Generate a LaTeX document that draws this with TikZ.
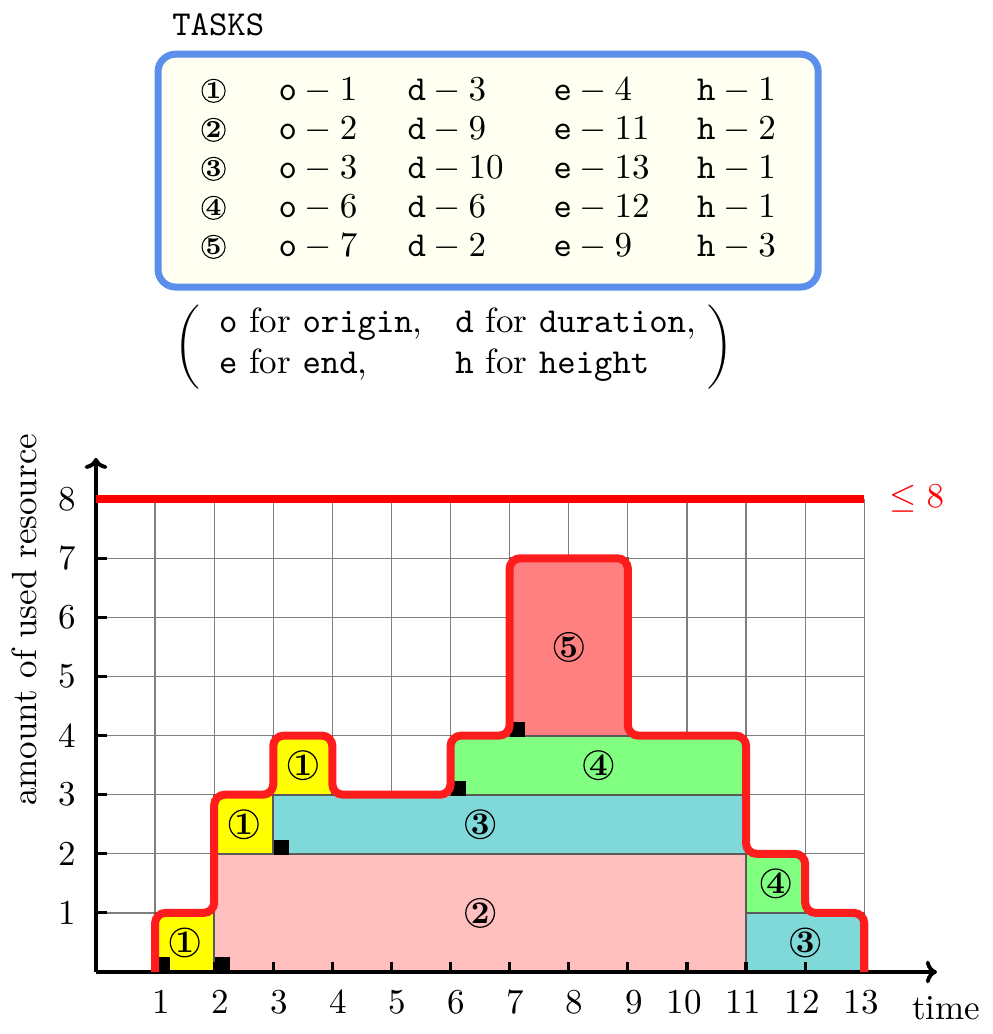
\documentclass[tikz,border=0pt]{standalone}
\usetikzlibrary{arrows.meta}
\definecolor{tyellow}{RGB}{255,255,0}
\definecolor{tpink}{RGB}{255,191,191}
\definecolor{tcyan}{RGB}{128,217,217}
\definecolor{tgreen}{RGB}{128,255,128}
\definecolor{tsalmon}{RGB}{255,128,128}
\definecolor{rectgray}{RGB}{90,90,90}
\definecolor{gridgray}{RGB}{128,128,128}
\definecolor{boxblue}{RGB}{90,143,235}
\definecolor{boxfill}{RGB}{255,255,242}
\definecolor{profred}{RGB}{255,28,28}
\begin{document}
\begin{tikzpicture}[x=0.5935cm,y=0.5935cm,
  gridline/.style={draw=gridgray,line width=0.35pt},
  task/.style={draw=rectgray,line width=0.6pt},
  omark/.style={fill=black},
  axisline/.style={draw=black,line width=1.1pt,-{To[length=3.2pt,width=6.5pt]}},
  tickline/.style={draw=black,line width=0.9pt},
  limitline/.style={draw=red,line width=2.3pt},
  profile/.style={draw=profred,line width=2.3pt,rounded corners=3pt},
  cnum/.style={circle,draw,line width=0.35pt,inner sep=0pt,minimum size=8.2pt,font=\small\bfseries},
  tnum/.style={circle,draw,line width=0.3pt,inner sep=0pt,minimum size=6.6pt,font=\scriptsize\bfseries},
  entry/.style={anchor=base west,inner sep=0pt},
  ticklabel/.style={inner sep=0pt}]
\useasboundingbox (-1.624,-1.049) rectangle (15.178,16.447);

% ---------- task table ----------
\node[entry] (title) at (1.28,15.84) {\texttt{TASKS}};
\draw[draw=boxblue,fill=boxfill,line width=2pt,rounded corners=5pt]
  (1.05,11.59) rectangle (12.22,15.53);
\foreach \r/\o/\d/\e/\h in {1/1/3/4/1, 2/2/9/11/2, 3/3/10/13/1, 4/6/6/12/1, 5/7/2/9/3}{
  \pgfmathsetmacro\yb{14.75-0.66*(\r-1)}
  \node[tnum] (n\r) at (1.99,\yb+0.16) {\r};
  \node[entry] (o\r) at (3.08,\yb) {$\texttt{o} - \o$};
  \node[entry] (d\r) at (5.26,\yb) {$\texttt{d} - \d$};
  \node[entry] (e\r) at (7.73,\yb) {$\texttt{e} - \e$};
  \node[entry] (h\r) at (10.16,\yb) {$\texttt{h} - \h$};
}

% ---------- legend ----------
\node[inner sep=0pt] (lparen) at (1.54,10.57) {$\bigg($};
\node[inner sep=0pt] (rparen) at (10.56,10.57) {$\bigg)$};
\node[entry] (lo) at (2.07,10.82) {\texttt{o} for \texttt{origin},};
\node[entry] (ld) at (6.07,10.82) {\texttt{d} for \texttt{duration},};
\node[entry] (le) at (2.07,10.13) {\texttt{e} for \texttt{end},};
\node[entry] (lh) at (6.07,10.13) {\texttt{h} for \texttt{height}};

% ---------- chart ----------
\foreach \x in {1,...,13} \draw[gridline] (\x,0) -- (\x,8);
\foreach \y in {1,...,8} \draw[gridline] (0,\y) -- (13,\y);

\filldraw[task,fill=tpink]   (2,0) rectangle (11,2);
\filldraw[task,fill=tyellow] (1,0) rectangle (2,1);
\filldraw[task,fill=tyellow] (2,2) rectangle (3,3);
\filldraw[task,fill=tyellow] (3,3) rectangle (4,4);
\filldraw[task,fill=tcyan]   (3,2) rectangle (11,3);
\filldraw[task,fill=tcyan]   (11,0) rectangle (13,1);
\filldraw[task,fill=tgreen]  (6,3) rectangle (11,4);
\filldraw[task,fill=tgreen]  (11,1) rectangle (12,2);
\filldraw[task,fill=tsalmon] (7,4) rectangle (9,7);

\foreach \p in {(1.01,0),(2.01,0),(3.01,1.98),(6.01,2.98),(7.01,3.98)}
  \fill[omark] \p rectangle +(0.25,0.25);

\foreach \x in {1,...,13} \draw[tickline] (\x,0) -- (\x,0.17);
\foreach \y in {1,...,8} \draw[tickline] (0,\y) -- (0.18,\y);
\draw[axisline] (0,0) -- (14.23,0);
\draw[axisline] (0,0) -- (0,8.7);

\draw[limitline] (0,8) -- (13,8);
\draw[profile] (1,0) -- (1,1) -- (2,1) -- (2,3) -- (3,3) -- (3,4) -- (4,4)
  -- (4,3) -- (6,3) -- (6,4) -- (7,4) -- (7,7) -- (9,7) -- (9,4) -- (11,4)
  -- (11,2) -- (12,2) -- (12,1) -- (13,1) -- (13,0);

\node[cnum] (ta) at (1.5,0.5) {1};
\node[cnum] (tb) at (2.5,2.5) {1};
\node[cnum] (tc) at (3.5,3.5) {1};
\node[cnum] (td) at (6.5,1) {2};
\node[cnum] (te) at (6.5,2.5) {3};
\node[cnum] (tf) at (12,0.5) {3};
\node[cnum] (tg) at (8.5,3.5) {4};
\node[cnum] (th) at (11.5,1.5) {4};
\node[cnum] (ti) at (8,5.5) {5};

\foreach \x in {1,...,13}
  \node[ticklabel,anchor=base east] (xl\x) at (\x+0.26,-0.71) {\x};
\foreach \y in {1,...,8}
  \node[ticklabel] (yl\y) at (-0.49,\y) {\y};

\node[entry] (tlabel) at (13.8,-0.81) {time};
\node[inner sep=0pt,anchor=base,rotate=90] (ylabel) at (-1.0,5.96) {amount of used resource};
\node[entry,text=red] (lim) at (13.42,7.86) {$\leq 8$};
\end{tikzpicture}
\end{document}
